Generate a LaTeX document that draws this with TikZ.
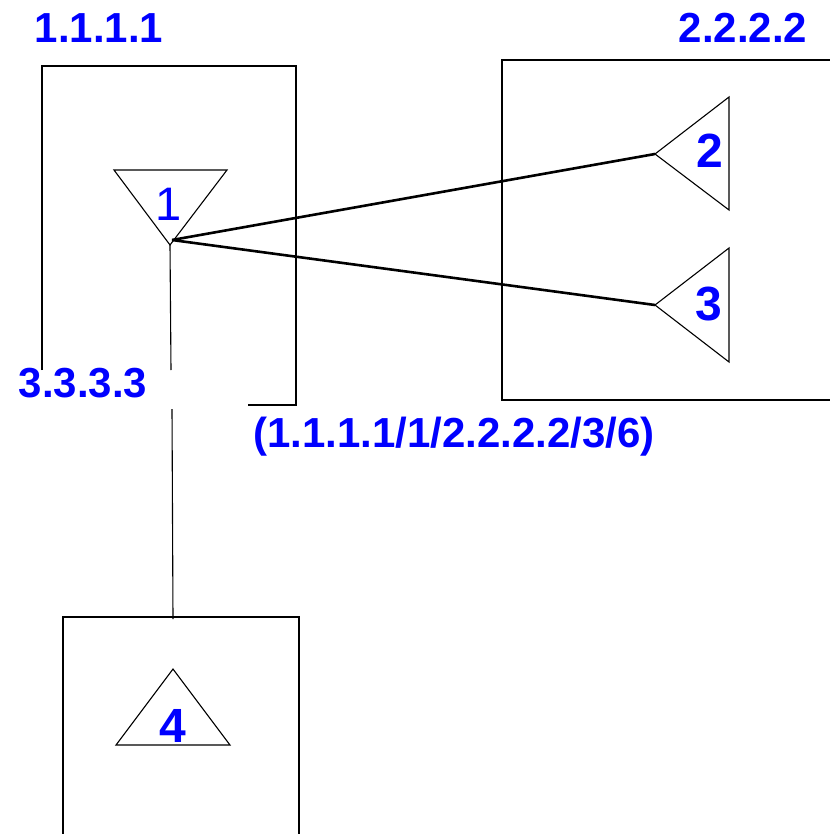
\documentclass[tikz,border=0pt]{standalone}
\usepackage{fontspec}
\setmainfont{Liberation Sans}
\definecolor{labelblue}{RGB}{0,0,255}
\begin{document}
\begin{tikzpicture}[x=1pt,y=-1pt,
  frame/.style={draw=black,line width=2pt},
  tri/.style={draw=black,line width=1.1pt,line join=miter},
  link/.style={draw=black,line width=2.6pt},
  drop/.style={draw=black,line width=1.1pt},
  addr/.style={text=labelblue,inner sep=0pt,anchor=base,font=\fontsize{42}{42}\selectfont\bfseries},
  tag/.style={text=labelblue,inner sep=0pt,anchor=base,font=\fontsize{48}{48}\selectfont\bfseries}]
\useasboundingbox (0,0) rectangle (829,834);

% router frames
\draw[frame] (42,370) -- (42,66) -- (296,66) -- (296,405) -- (248,405);
\draw[frame] (840,60) -- (502,60) -- (502,400) -- (840,400);
\draw[frame] (63,845) -- (63,617) -- (299,617) -- (299,845);

% antenna triangles
\coordinate (t1) at (170,245);
\coordinate (t1a) at (114,170);
\coordinate (t1b) at (227,170);
\coordinate (t2) at (655,154);
\coordinate (t2a) at (729,97);
\coordinate (t2b) at (729,210);
\coordinate (t3) at (655,305);
\coordinate (t3a) at (729,248);
\coordinate (t3b) at (729,362);
\coordinate (t4) at (173,669);
\coordinate (t4a) at (116,745);
\coordinate (t4b) at (230,745);
\draw[tri] (t1a) -- (t1b) -- (t1) -- cycle;
\draw[tri] (t2a) -- (t2b) -- (t2) -- cycle;
\draw[tri] (t3a) -- (t3b) -- (t3) -- cycle;
\draw[tri] (t4) -- (t4a) -- (t4b) -- cycle;

% links
\coordinate (src) at (172,240);
\draw[link] (src) -- (t2);
\draw[link] (src) -- (t3);
\coordinate (gapa) at (171,370);
\coordinate (gapb) at (172,409);
\coordinate (c4top) at (173,619);
\draw[drop] (t1) -- (gapa);
\draw[drop] (gapb) -- (c4top);

% labels
\node[addr] (l1) at (99,43) {1.1.1.1};
\node[addr] (l2) at (743,43) {2.2.2.2};
\node[addr] (l3) at (83,397) {3.3.3.3};
\node[addr] (lp) at (454,447) {(1.1.1.1/1/2.2.2.2/3/6)};
\node[tag,font=\fontsize{47}{47}\selectfont\mdseries] (n1) at (168.5,221) {1};
\node[tag] (n2) at (709.5,168) {2};
\node[tag] (n3) at (709,320) {3};
\node[tag] (n4) at (172.5,742) {4};
\end{tikzpicture}
\end{document}
